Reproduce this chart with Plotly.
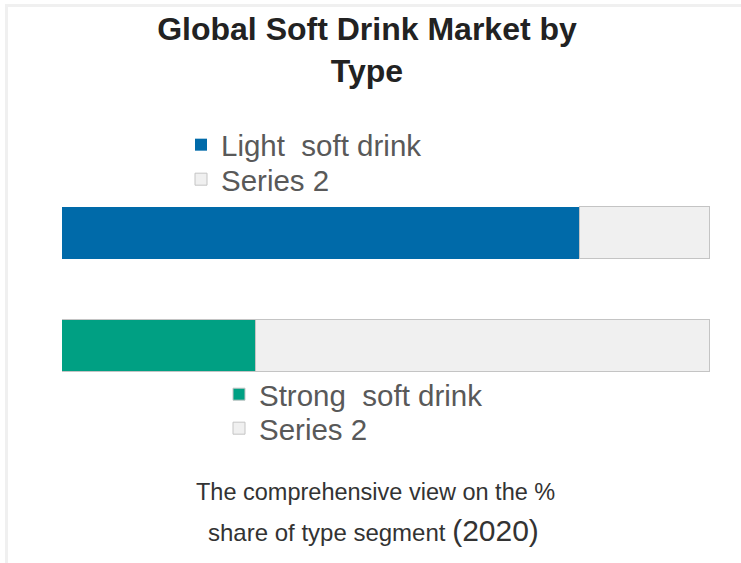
import plotly.graph_objects as go

# ---- data ----
categories = ["Strong", "Light"]
light_values = [80]
light_rest = [20]
strong_values = [30]
strong_rest = [70]
light_name = "Light  soft drink"
strong_name = "Strong  soft drink"
rest_name = "Series 2"
title_lines = ["Global Soft Drink Market by", "Type"]
caption_line1 = "The comprehensive view on the %"
caption_line2 = "share of type segment"
caption_year = "(2020)"

BLUE = "#006aa9"
TEAL = "#00a083"
GREY = "#f0f0f0"
EDGE = "#c4c4c4"
W, H = 741, 563
FONT = "Liberation Sans, Arial, sans-serif"

fig = go.Figure()
fig.add_trace(go.Bar(y=["Light"], x=light_values, orientation="h", name=light_name,
                     marker=dict(color=BLUE, line=dict(width=0)), legend="legend", width=0.46))
fig.add_trace(go.Bar(y=["Light"], x=light_rest, orientation="h", name=rest_name,
                     marker=dict(color=GREY, line=dict(width=1, color=EDGE)), legend="legend2", width=0.46))
fig.add_trace(go.Bar(y=["Strong"], x=strong_values, orientation="h", name=strong_name,
                     marker=dict(color=TEAL, line=dict(width=1, color=EDGE)), legend="legend3", width=0.46))
fig.add_trace(go.Bar(y=["Strong"], x=strong_rest, orientation="h", name=rest_name,
                     marker=dict(color=GREY, line=dict(width=1, color=EDGE)), legend="legend4", width=0.46))

legend_font = dict(family=FONT, size=29.5, color="#595959")


def legend_at(px_x, px_y):
    return dict(x=px_x / W, y=1 - px_y / H, xanchor="left", yanchor="middle",
                font=legend_font, bgcolor="rgba(0,0,0,0)", borderwidth=0)


fig.update_layout(
    width=W, height=H,
    margin=dict(l=0, r=0, t=0, b=0),
    paper_bgcolor="white", plot_bgcolor="white",
    barmode="stack",
    bargap=0,
    showlegend=True,
    xaxis=dict(range=[0, 100], domain=[62 / W, 710 / W], visible=False, fixedrange=True),
    yaxis=dict(type="category", categoryorder="array", categoryarray=categories,
               range=[-1.920, 3.062], domain=[0, 1], visible=False, fixedrange=True),
    title=dict(text="<b>" + "<br>".join(title_lines) + "</b>",
               x=367 / W, xanchor="center", y=1 - 40 / H, yanchor="top",
               font=dict(family=FONT, size=32, color="#222222")),
    legend=legend_at(181, 145),
    legend2=legend_at(181, 179.5),
    legend3=legend_at(219, 394.5),
    legend4=legend_at(219, 428.5),
    annotations=[
        dict(text=caption_line1, x=375 / W, y=1 - 507 / H, xref="paper", yref="paper",
             xanchor="center", yanchor="bottom", showarrow=False,
             font=dict(family=FONT, size=23.5, color="#333333")),
        dict(text=caption_line2 + " <span style='font-size:30px'>" + caption_year + "</span>",
             x=373 / W, y=1 - 549 / H, xref="paper", yref="paper",
             xanchor="center", yanchor="bottom", showarrow=False,
             font=dict(family=FONT, size=24, color="#333333")),
    ],
    shapes=[
        dict(type="line", xref="paper", yref="paper", x0=5 / W, x1=1, y0=1 - 5.5 / H, y1=1 - 5.5 / H,
             line=dict(color="#f0f0f0", width=3), layer="below"),
        dict(type="line", xref="paper", yref="paper", x0=6.5 / W, x1=6.5 / W, y0=0, y1=1 - 4 / H,
             line=dict(color="#f0f0f0", width=3), layer="below"),
    ],
)

fig.write_html("out.html", config={"displayModeBar": False},
               post_script="document.body.style.margin='0px';document.body.style.overflow='hidden';")
